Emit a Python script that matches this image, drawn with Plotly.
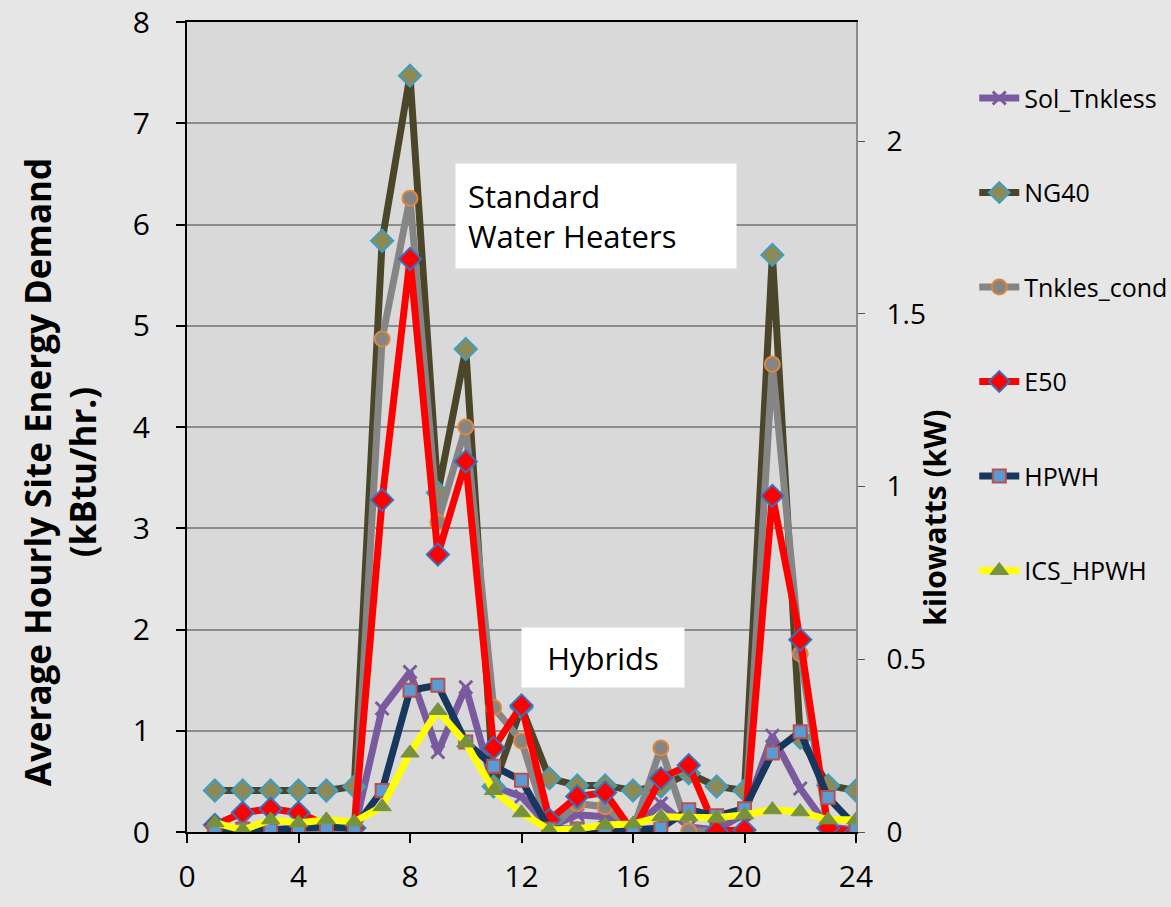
import plotly.graph_objects as go

# hour of day
hours = list(range(1, 25))

sol_tnkless = [0.02, 0.02, 0.02, 0.02, 0.02, 0.02, 1.22, 1.58, 0.79, 1.43, 0.45, 0.35,
               0.05, 0.17, 0.15, 0.03, 0.28, 0.05, 0.02, 0.18, 0.95, 0.43, 0.05, 0.02]
ng40 = [0.41, 0.41, 0.41, 0.41, 0.41, 0.45, 5.84, 7.47, 3.35, 4.77, 0.45, 1.23,
        0.53, 0.46, 0.46, 0.41, 0.45, 0.58, 0.45, 0.41, 5.70, 0.93, 0.46, 0.41]
tnkles_cond = [0.0, 0.0, 0.0, 0.0, 0.0, 0.0, 4.87, 6.26, 3.06, 4.00, 1.23, 0.90,
               0.02, 0.28, 0.25, 0.02, 0.83, 0.01, 0.01, 0.02, 4.62, 1.76, 0.0, 0.0]
e50 = [0.07, 0.19, 0.23, 0.19, 0.07, 0.04, 3.28, 5.66, 2.74, 3.66, 0.83, 1.25,
       0.12, 0.35, 0.39, 0.0, 0.53, 0.66, 0.01, 0.02, 3.32, 1.90, 0.04, 0.0]
hpwh = [0.03, 0.03, 0.02, 0.04, 0.05, 0.04, 0.41, 1.40, 1.45, 0.89, 0.65, 0.51,
        0.03, 0.03, 0.03, 0.02, 0.04, 0.22, 0.16, 0.23, 0.78, 0.99, 0.34, 0.05]
ics_hpwh = [0.09, 0.02, 0.12, 0.09, 0.12, 0.10, 0.25, 0.78, 1.20, 0.88, 0.41, 0.19,
            0.02, 0.03, 0.07, 0.08, 0.15, 0.15, 0.14, 0.17, 0.22, 0.20, 0.12, 0.12]

KBTU_PER_KW = 3.412
FONT = "Open Sans"
PAPER = "#e6e6e6"

series = [
    ("Sol_Tnkless", sol_tnkless, "#7a5a9e", dict(symbol="x-thin", size=13, color="#7a5a9e",
                                                  line=dict(color="#7a5a9e", width=3))),
    ("NG40", ng40, "#4b4629", dict(symbol="diamond", size=17, color="#8e8a56",
                                   line=dict(color="#3a9fc4", width=2))),
    ("Tnkles_cond", tnkles_cond, "#858585", dict(symbol="circle", size=15, color="#858585",
                                                 line=dict(color="#e0873a", width=2))),
    ("E50", e50, "#ff0000", dict(symbol="diamond", size=17, color="#ff0000",
                                 line=dict(color="#3a70b8", width=2))),
    ("HPWH", hpwh, "#17375e", dict(symbol="square", size=13, color="#5b9bd5",
                                   line=dict(color="#b9504c", width=2))),
    ("ICS_HPWH", ics_hpwh, "#ffff00", dict(symbol="triangle-up", size=16, color="#76923c",
                                           line=dict(color="#76923c", width=1))),
]

fig = go.Figure()
for i, (name, vals, col, mk) in enumerate(series):
    fig.add_trace(go.Scatter(
        x=hours, y=vals, name=name, mode="lines+markers",
        line=dict(color=col, width=7),
        marker=mk,
        legendgroup=str(i),
    ))

# invisible trace to carry the kW axis
fig.add_trace(go.Scatter(x=[0, 24], y=[0, 0], yaxis="y2", mode="lines",
                         line=dict(width=0), showlegend=False, hoverinfo="skip"))

fig.update_layout(
    width=1171, height=907,
    paper_bgcolor=PAPER,
    plot_bgcolor="#d9d9d9",
    font=dict(family=FONT, color="black"),
    margin=dict(l=187, r=315, t=22, b=75),
    xaxis=dict(range=[0, 24], tickvals=[0, 4, 8, 12, 16, 20, 24],
               showgrid=False, zeroline=False, automargin=False,
               showline=True, linecolor="black", linewidth=2, mirror=True,
               ticks="outside", ticklen=9, tickwidth=2, tickcolor="black",
               ticklabelstandoff=8, tickfont=dict(size=30)),
    yaxis=dict(range=[0, 8], dtick=1, automargin=False,
               showgrid=True, gridcolor="#8c8c8c", gridwidth=2, zeroline=False,
               showline=True, linecolor="black", linewidth=2,
               ticks="outside", ticklen=9, tickwidth=2, tickcolor="black",
               ticklabelstandoff=20, tickfont=dict(size=30)),
    yaxis2=dict(range=[0, 8 / KBTU_PER_KW], overlaying="y", side="right",
                tickvals=[0, 0.5, 1, 1.5, 2], ticktext=["0", "0.5", "1", "1.5", "2"],
                showgrid=False, zeroline=False, automargin=False,
                showline=True, linecolor="#8c8c8c", linewidth=2,
                ticks="outside", ticklen=7, tickwidth=1, tickcolor="#555",
                ticklabelstandoff=16, tickfont=dict(size=28)),
    legend=dict(xref="container", yref="container", x=0.832, y=0.917,
                xanchor="left", yanchor="top", maxheight=800,
                bgcolor="rgba(0,0,0,0)", font=dict(size=25),
                tracegroupgap=59, itemwidth=40),
    showlegend=True,
    annotations=[
        dict(text="<b>Average Hourly Site Energy Demand</b><br><b>(kBtu/hr.)</b>",
             xref="paper", yref="paper", x=-0.19, y=0.444, textangle=-90,
             showarrow=False, font=dict(size=35), xanchor="center", yanchor="middle"),
        dict(text="<b>kilowatts (kW)</b>", xref="paper", yref="paper",
             x=1.118, y=0.388, textangle=-90, showarrow=False,
             font=dict(size=30), xanchor="center", yanchor="middle"),
        dict(text="Standard<br>Water Heaters", xref="x", yref="y", x=14.67, y=6.08,
             showarrow=False, align="left", font=dict(size=31),
             width=256, height=80, bgcolor="white", borderpad=12,
             xanchor="center", yanchor="middle"),
        dict(text="Hybrids", xref="x", yref="y", x=14.92, y=1.72,
             showarrow=False, font=dict(size=31),
             width=150, height=47, bgcolor="white", borderpad=6,
             xanchor="center", yanchor="middle"),
    ],
)

# drop the browser's default page margin so the figure sits at the window's corner
fig.write_html("out.html", config={"displayModeBar": False},
               post_script="document.body.style.margin='0';"
                           "document.body.style.background='%s';" % PAPER)
